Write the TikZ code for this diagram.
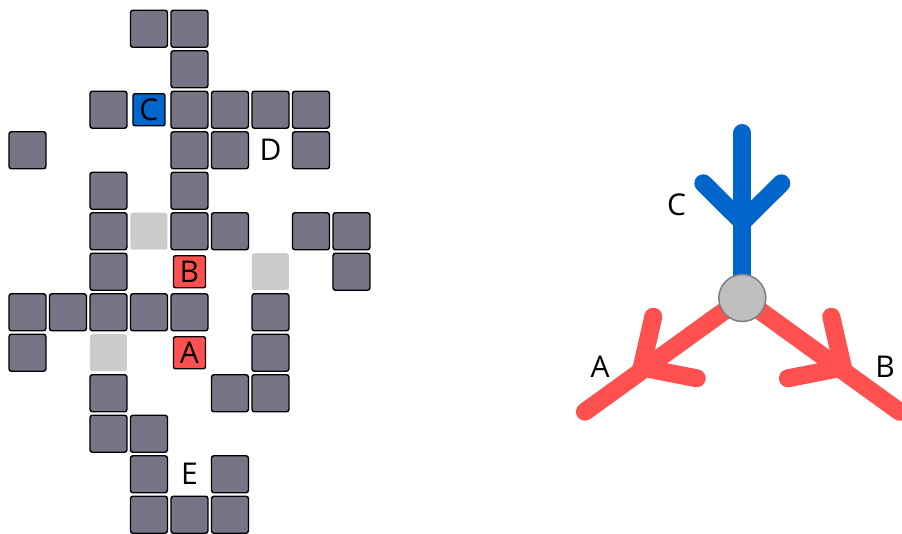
\documentclass[tikz,border=0pt]{standalone}
\usepackage{fontspec}
\setmainfont{Open Sans}
\definecolor{cellgray}{RGB}{118,117,133}
\definecolor{ghostgray}{RGB}{204,204,204}
\definecolor{myred}{RGB}{255,80,80}
\definecolor{myblue}{RGB}{0,102,204}
\definecolor{hubfill}{RGB}{191,191,191}
\definecolor{hubdraw}{RGB}{127,127,127}
\begin{document}
\begin{tikzpicture}[x=1pt,y=-1pt,
  cell/.style={draw=black,line width=1.4pt,fill=cellgray,rounded corners=2.5pt,minimum size=37pt,inner sep=0pt},
  ghost/.style={fill=ghostgray,rounded corners=2.5pt,minimum size=37pt,inner sep=0pt},
  redcell/.style={draw=black,line width=1.4pt,fill=myred,rounded corners=2pt,minimum size=32pt,inner sep=0pt,font=\fontsize{30}{30}\selectfont},
  bluecell/.style={draw=black,line width=1.4pt,fill=myblue,rounded corners=2pt,minimum size=32pt,inner sep=0pt,font=\fontsize{30}{30}\selectfont},
  lbl/.style={inner sep=0pt,font=\fontsize{30}{30}\selectfont},
  redline/.style={draw=myred,line width=18pt,line cap=round,line join=round},
  blueline/.style={draw=myblue,line width=18pt,line cap=round,line join=round}]
\useasboundingbox (0,0) rectangle (902,534);
% grid cells: (col,row)
\foreach \c/\r in {3/0,4/0, 4/1, 2/2,4/2,5/2,6/2,7/2, 0/3,4/3,5/3,7/3, 2/4,4/4,
  2/5,4/5,5/5,7/5,8/5, 2/6,8/6, 0/7,1/7,2/7,3/7,4/7,6/7, 0/8,6/8, 2/9,5/9,6/9,
  2/10,3/10, 3/11,5/11, 3/12,4/12,5/12}
  \node[cell] (g\c-\r) at ({27.45+40.5*\c},{28.75+40.5*\r}) {};
\foreach \c/\r in {3/5,6/6,2/8}
  \node[ghost] (h\c-\r) at ({27.45+40.5*\c},{28.75+40.5*\r}) {};
\node[bluecell] (cellC) at ({27.45+40.5*3},{28.75+40.5*2}) {C};
\node[redcell] (cellB) at ({27.45+40.5*4},{28.75+40.5*6}) {B};
\node[redcell] (cellA) at ({27.45+40.5*4},{28.75+40.5*8}) {A};
\node[lbl] (lblD) at ({27.45+40.5*6},{28.75+40.5*3}) {D};
\node[lbl] (lblE) at ({27.45+40.5*4},{28.75+40.5*11}) {E};
% tree
\coordinate (hubc) at (742.3,298);
\coordinate (cTop) at (742.3,133);
\coordinate (cFork) at (742.3,222);
\coordinate (cL) at (703.3,183.3);
\coordinate (cR) at (781.3,183.3);
\coordinate (aEnd) at (585,411.7);
\coordinate (aFork) at (641.7,367.5);
\coordinate (aT1) at (653.3,316.7);
\coordinate (aT2) at (696.7,378.3);
\coordinate (bEnd) at (899.6,411.7);
\coordinate (bFork) at (842.9,367.5);
\coordinate (bT1) at (831.3,316.7);
\coordinate (bT2) at (787.9,378.3);
\draw[blueline] (hubc) -- (cTop);
\draw[blueline] (cL) -- (cFork) -- (cR);
\draw[redline] (hubc) -- (aEnd);
\draw[redline] (aT1) -- (aFork) -- (aT2);
\draw[redline] (hubc) -- (bEnd);
\draw[redline] (bT1) -- (bFork) -- (bT2);
\node[circle,fill=hubfill,draw=hubdraw,line width=1.5pt,minimum size=47pt,inner sep=0pt] (hub) at (hubc) {};
\node[lbl] (lblC) at (676.7,205) {C};
\node[lbl] (lblA) at (600,366.7) {A};
\node[lbl] (lblB) at (885,366.7) {B};
\end{tikzpicture}
\end{document}
